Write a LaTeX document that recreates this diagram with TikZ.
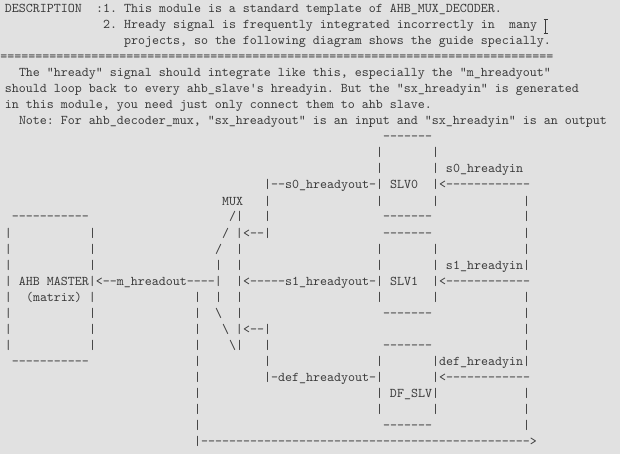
\documentclass[tikz,border=0pt]{standalone}
\usepackage{fontspec}
\setmonofont{lmmono10-regular.otf}
\definecolor{bgc}{HTML}{E1E1E1}
\definecolor{txc}{HTML}{3A3A3A}
\tikzset{seg/.style={anchor=base west,inner sep=0pt,outer sep=0pt,text=txc,
  font=\ttfamily\fontsize{13.333pt}{16pt}\selectfont\frenchspacing}}
% #1 name, #2 row, #3 column, #4 text
\newcommand\seg[4]{\node[seg] (#1) at ({7*#3-2},{16*#2+13}) {#4};}
\begin{document}
\begin{tikzpicture}[x=1pt,y=-1pt]
\fill[bgc] (0,0) rectangle (620,454);
\useasboundingbox (0,0) rectangle (620,454);
% description
\seg{d0a}{0}{1}{DESCRIPTION}
\seg{d0b}{0}{14}{:1. This module is a standard template of AHB\_MUX\_DECODER.}
\seg{d1a}{1}{15}{2. Hready signal is frequently integrated incorrectly in}
\seg{d1b}{1}{73}{many}
\seg{d2a}{2}{18}{projects, so the following diagram shows the guide specially.}
\node[seg] (d3a) at (0.3,61) {===============================================================================};
\seg{d4a}{4}{3}{The "hready" signal should integrate like this, especially the "m\_hreadyout"}
\seg{d5a}{5}{1}{should loop back to every ahb\_slave's hreadyin. But the "sx\_hreadyin" is generated}
\seg{d6a}{6}{1}{in this module, you need just only connect them to ahb slave.}
\seg{d7a}{7}{3}{Note: For ahb\_decoder\_mux, "sx\_hreadyout" is an input and "sx\_hreadyin" is an output}
% cursor
\coordinate (curt) at (545.5,19);
\coordinate (curb) at (545.5,33);
\draw[txc,line width=0.9pt] (curt) -- (curb);
\draw[txc,line width=0.9pt] ([xshift=-2pt]curt) -- ([xshift=2pt]curt);
\draw[txc,line width=0.9pt] ([xshift=-2pt]curb) -- ([xshift=2pt]curb);
% row 8
\seg{r8a}{8}{55}{-------}
% row 9
\seg{r9a}{9}{54}{|}
\seg{r9b}{9}{62}{|}
% row 10
\seg{r10a}{10}{54}{|}
\seg{r10b}{10}{62}{| s0\_hreadyin}
% row 11
\seg{r11a}{11}{38}{|--s0\_hreadyout-| SLV0}
\seg{r11b}{11}{62}{|<------------}
% row 12
\seg{r12a}{12}{32}{MUX}
\seg{r12b}{12}{38}{|}
\seg{r12c}{12}{54}{|}
\seg{r12d}{12}{62}{|}
\seg{r12e}{12}{75}{|}
% row 13
\seg{r13a}{13}{2}{-----------}
\seg{r13b}{13}{33}{/|}
\seg{r13c}{13}{38}{|}
\seg{r13d}{13}{55}{-------}
\seg{r13e}{13}{75}{|}
% row 14
\seg{r14a}{14}{1}{|}
\seg{r14b}{14}{13}{|}
\seg{r14c}{14}{32}{/ |<--|}
\seg{r14d}{14}{55}{-------}
\seg{r14e}{14}{75}{|}
% row 15
\seg{r15a}{15}{1}{|}
\seg{r15b}{15}{13}{|}
\seg{r15c}{15}{31}{/}
\seg{r15d}{15}{34}{|}
\seg{r15e}{15}{54}{|}
\seg{r15f}{15}{62}{|}
\seg{r15g}{15}{75}{|}
% row 16
\seg{r16a}{16}{1}{|}
\seg{r16b}{16}{13}{|}
\seg{r16c}{16}{31}{|}
\seg{r16d}{16}{34}{|}
\seg{r16e}{16}{54}{|}
\seg{r16f}{16}{62}{| s1\_hreadyin|}
% row 17
\seg{r17a}{17}{1}{| AHB MASTER|<--m\_hreadout----|}
\seg{r17b}{17}{34}{|<-----s1\_hreadyout-| SLV1}
\seg{r17c}{17}{62}{|<------------}
% row 18
\seg{r18a}{18}{1}{|}
\seg{r18b}{18}{4}{(matrix) |}
\seg{r18c}{18}{28}{|}
\seg{r18d}{18}{31}{|}
\seg{r18e}{18}{34}{|}
\seg{r18f}{18}{54}{|}
\seg{r18g}{18}{62}{|}
\seg{r18h}{18}{75}{|}
% row 19
\seg{r19a}{19}{1}{|}
\seg{r19b}{19}{13}{|}
\seg{r19c}{19}{28}{|}
\seg{r19d}{19}{31}{\textbackslash}
\seg{r19e}{19}{34}{|}
\seg{r19f}{19}{55}{-------}
\seg{r19g}{19}{75}{|}
% row 20
\seg{r20a}{20}{1}{|}
\seg{r20b}{20}{13}{|}
\seg{r20c}{20}{28}{|}
\seg{r20d}{20}{32}{\textbackslash{} |<--|}
\seg{r20e}{20}{75}{|}
% row 21
\seg{r21a}{21}{1}{|}
\seg{r21b}{21}{13}{|}
\seg{r21c}{21}{28}{|}
\seg{r21d}{21}{33}{\textbackslash|}
\seg{r21e}{21}{38}{|}
\seg{r21f}{21}{55}{-------}
\seg{r21g}{21}{75}{|}
% row 22
\seg{r22a}{22}{2}{-----------}
\seg{r22b}{22}{28}{|}
\seg{r22c}{22}{38}{|}
\seg{r22d}{22}{54}{|}
\seg{r22e}{22}{62}{|def\_hreadyin|}
% row 23
\seg{r23a}{23}{28}{|}
\seg{r23b}{23}{38}{|-def\_hreadyout-|}
\seg{r23c}{23}{62}{|<------------}
% row 24
\seg{r24a}{24}{28}{|}
\seg{r24b}{24}{54}{| DF\_SLV|}
\seg{r24c}{24}{75}{|}
% row 25
\seg{r25a}{25}{28}{|}
\seg{r25b}{25}{54}{|}
\seg{r25c}{25}{62}{|}
\seg{r25d}{25}{75}{|}
% row 26
\seg{r26a}{26}{28}{|}
\seg{r26b}{26}{55}{-------}
\seg{r26c}{26}{75}{|}
% row 27
\seg{r27a}{27}{28}{|----------------------------------------------->}
\end{tikzpicture}
\end{document}
